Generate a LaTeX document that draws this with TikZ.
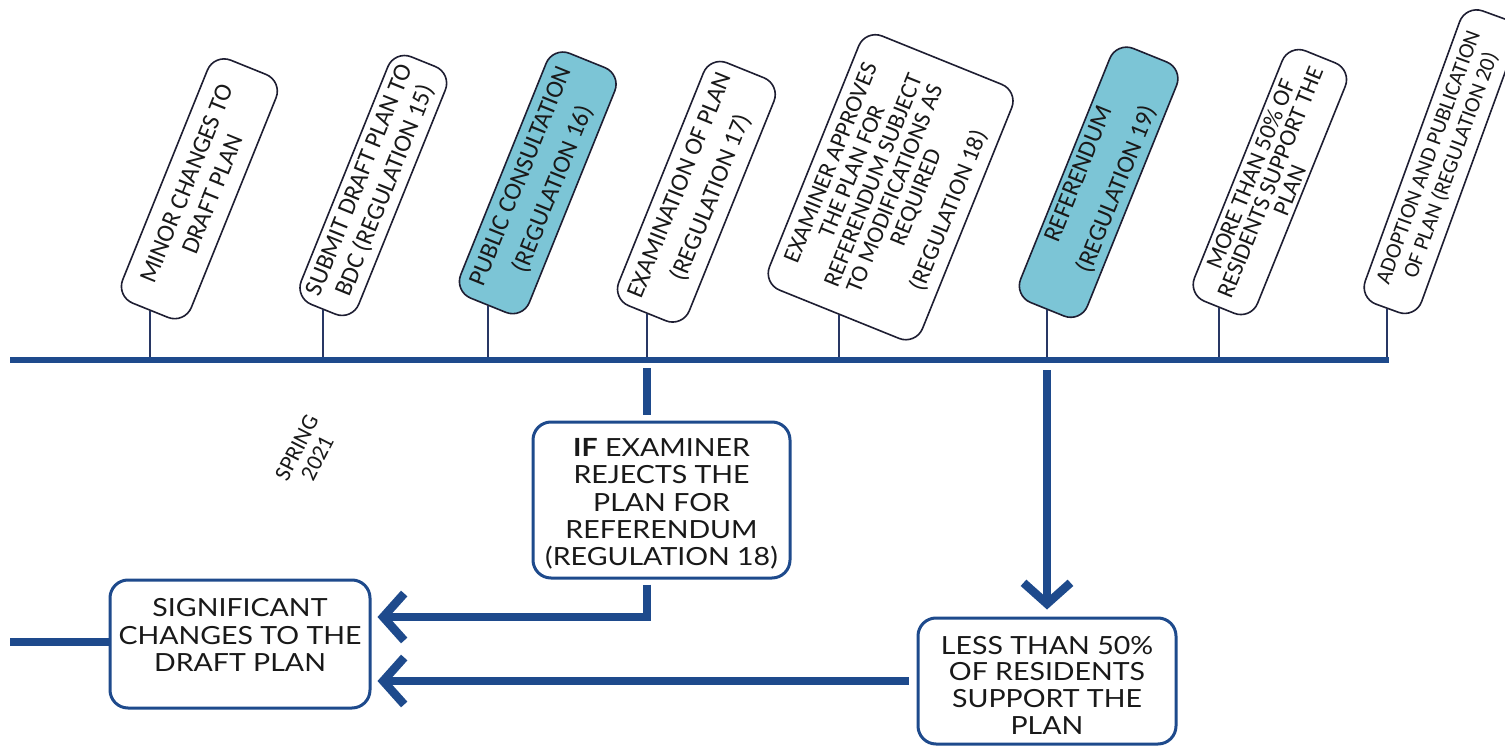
\documentclass[tikz,border=0pt]{standalone}
\usepackage{fontspec}
\setmainfont{Carlito}
\newfontfamily\latofont[FakeStretch=1.14]{Lato}
\usetikzlibrary{arrows.meta,calc}
\definecolor{navy}{RGB}{30,74,140}
\definecolor{tickc}{RGB}{40,55,100}
\definecolor{edge}{RGB}{30,30,50}
\definecolor{lblue}{RGB}{124,197,214}
\definecolor{txt}{RGB}{25,25,25}
\begin{document}
\begin{tikzpicture}[x=1pt,y=-1pt,
  rbox/.style={draw=edge, line width=1.6pt, rounded corners=18pt, align=center, text=txt,
    anchor=west, rotate=68, inner sep=2pt, font=\fontsize{25}{28}\selectfont},
  hl/.style={fill=lblue},
  bbox/.style={draw=navy, line width=3pt, rounded corners=18pt, align=center, text=txt,
    inner sep=1pt, font=\latofont\fontsize{25}{26.8}\selectfont},
  btxt/.style={align=center, text=txt, inner sep=0pt, font=\latofont\fontsize{25}{27.3}\selectfont},
  tick/.style={draw=tickc, line width=1.6pt},
  fat/.style={draw=navy, line width=8.5pt},
  arr/.style={-{Straight Barb[length=21pt,width=47pt]}},
]
\path[fill=white] (0,0) rectangle (1505,746);
\useasboundingbox (0,0) rectangle (1505,746);

% timeline
\coordinate (tlA) at (10,360);
\coordinate (tlB) at (1389,360);

% rotated step boxes
\node[rbox, minimum width=262pt, minimum height=74pt] (n1) at (150,311)
  {MINOR CHANGES TO\\DRAFT PLAN};
\node[rbox, minimum width=267pt, minimum height=62pt] (n2) at (323,310)
  {SUBMIT DRAFT PLAN TO\\BDC (REGULATION 15)};
\node[rbox, hl, minimum width=264pt, minimum height=74pt] (n3) at (488,306)
  {PUBLIC CONSULTATION\\[7pt](REGULATION 16)};
\node[rbox, minimum width=262pt, minimum height=76pt] (n4) at (647,314)
  {EXAMINATION OF PLAN\\[6pt](REGULATION 17)};
\node[rbox, minimum width=274pt, minimum height=165pt, font=\fontsize{24}{23}\selectfont] (n5) at (839,315)
  {EXAMINER APPROVES\\THE PLAN FOR\\REFERENDUM SUBJECT\\TO MODIFICATIONS AS\\REQUIRED\\[12pt](REGULATION 18)};
\node[rbox, hl, minimum width=274pt, minimum height=72pt] (n6) at (1047,310)
  {REFERENDUM\\[13pt](REGULATION 19)};
\node[rbox, minimum width=270pt, minimum height=68pt, font=\fontsize{24}{21}\selectfont] (n7) at (1219,308)
  {MORE THAN 50\% OF\\RESIDENTS SUPPORT THE\\PLAN};
\node[rbox, rotate=2, minimum width=312pt, minimum height=60pt, font=\fontsize{22}{24}\selectfont] (n8) at (1387,309)
  {ADOPTION AND PUBLICATION\\OF PLAN (REGULATION 20)};

% ticks
\foreach \n in {n1,n2,n3,n4,n5,n6,n7,n8}
  \draw[tick] (\n.west) -- (\n.west |- tlA);

\draw[navy, line width=6pt] (tlA) -- (tlB);

% season label
\node[rotate=63, align=center, text=txt, font=\fontsize{23}{23}\selectfont] (spring) at (307,453) {SPRING\\2021};

% lower boxes
\node[bbox, minimum width=257pt, minimum height=156pt] (ifb) at (661.5,500) {};
\node[btxt] (ifbt) at (661.5,504)
  {\textbf{IF} EXAMINER\\REJECTS THE\\PLAN FOR\\REFERENDUM\\(REGULATION 18)};
\node[bbox, minimum width=260pt, minimum height=128pt] (sig) at (240,644) {};
\node[btxt] (sigt) at (240,635) {SIGNIFICANT\\CHANGES TO THE\\DRAFT PLAN};
\node[bbox, minimum width=258pt, minimum height=126pt] (less) at (1047,681) {};
\node[btxt, font=\latofont\fontsize{25}{26.7}\selectfont] (lesst) at (1047,685)
  {LESS THAN 50\%\\OF RESIDENTS\\SUPPORT THE\\PLAN};

% connectors
\coordinate (stubA) at (647,368);
\coordinate (stubB) at (647,415);
\draw[fat] (stubA) -- (stubB);
\draw[fat, arr] ($(ifb.south -| stubA)+(0,5)$) |- ($(sig.east)+(6,-27)$);
\draw[fat, arr] ($(less.west)+(-8,0)$) -- ($(less.west -| sig.east)+(6,0)$);
\draw[fat, arr] ($(less.north |- tlA)+(0,10)$) -- ($(less.north)+(0,-7)$);
\coordinate (lend) at (10,642);
\draw[fat] (lend) -- (lend -| sig.west);
\end{tikzpicture}
\end{document}
